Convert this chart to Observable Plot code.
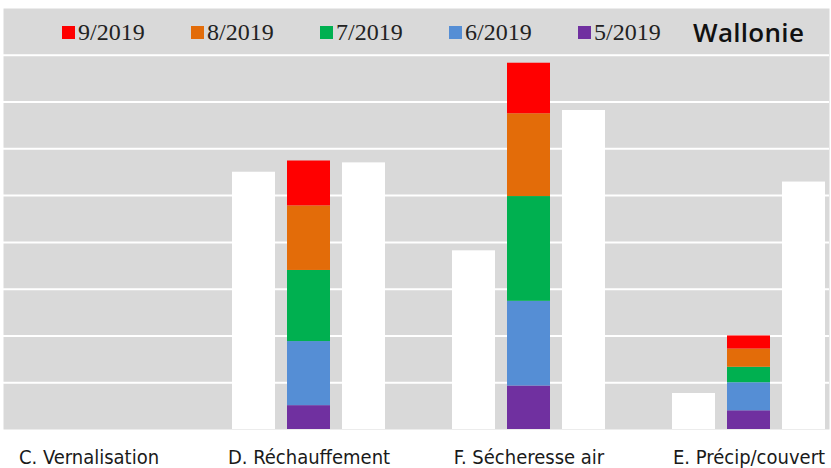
<!DOCTYPE html>
<html><head><meta charset="utf-8">
<script src="https://cdn.jsdelivr.net/npm/d3@7"></script>
<script src="https://cdn.jsdelivr.net/npm/@observablehq/plot@0.6"></script>
<style>
body{margin:0;background:#fff;}
#wrap{position:relative;width:831px;height:468px;overflow:hidden;}
#legend{position:absolute;left:62px;top:20px;height:24px;display:flex;align-items:center;}
.item{display:flex;align-items:center;width:129px;}
.sw{width:13px;height:13px;margin-right:3px;flex:none;}
.lt{font-family:"Liberation Serif",serif;font-size:24px;color:#222;}
.title{font-family:"Open Sans",sans-serif;font-size:26px;font-weight:600;letter-spacing:0.3px;color:#111;}
</style></head><body><div id="wrap"><div id="legend"></div></div>
<script>
const categories = ["C. Vernalisation", "D. Réchauffement", "F. Sécheresse air", "E. Précip/couvert"];
const months = ["5/2019", "6/2019", "7/2019", "8/2019", "9/2019"];
const monthColors = ["#7030a0", "#558ed5", "#00b050", "#e36c09", "#ff0000"];
const m5 = [0, 0.51, 0.93, 0.40];
const m6 = [0, 1.37, 1.81, 0.60];
const m7 = [0, 1.52, 2.24, 0.33];
const m8 = [0, 1.38, 1.77, 0.39];
const m9 = [0, 0.96, 1.08, 0.28];
const whiteLeft = [0, 5.50, 3.82, 0.77];
const whiteRight = [0, 5.70, 6.82, 5.29];
const title = "Wallonie";

const series = [m5, m6, m7, m8, m9];
// 4 slots per category: left white, stack, right white, gap
const slots = categories.flatMap((c, i) => [0, 1, 2, 3].map(j => `${i}-${j}`));
const stackData = [];
series.forEach((vals, k) => vals.forEach((v, i) => { if (v > 0) stackData.push({slot: `${i}-1`, month: months[k], value: v}); }));
const whiteData = [];
categories.forEach((c, i) => {
  if (whiteLeft[i] > 0) whiteData.push({slot: `${i}-0`, value: whiteLeft[i]});
  if (whiteRight[i] > 0) whiteData.push({slot: `${i}-2`, value: whiteRight[i]});
});
const labelSlots = categories.map((c, i) => `${i}-1`);

const chart = Plot.plot({
  width: 831, height: 468,
  marginTop: 8, marginBottom: 39, marginLeft: 3, marginRight: 2,
  x: {domain: slots, range: [3.7, 889], paddingInner: 0.21, paddingOuter: 0.105, label: null},
  y: {domain: [0, 9], axis: null},
  color: {domain: months, range: monthColors},
  marks: [
    Plot.frame({fill: "#d9d9d9", stroke: null}),
    Plot.gridY(d3.range(1, 9), {stroke: "white", strokeOpacity: 1, strokeWidth: 2}),
    Plot.barY(whiteData, {x: "slot", y: "value", fill: "white"}),
    Plot.barY(stackData, {x: "slot", y: "value", fill: "month"}),
    Plot.axisX(labelSlots, {
      tickFormat: s => categories[+s.split("-")[0]],
      tickSize: 0, tickPadding: 20, fontSize: 20, label: null,
      fontFamily: "'DejaVu Sans Condensed','DejaVu Sans',sans-serif",
      fill: "#1a1a1a", textOverflow: null
    })
  ]
});
const wrap = document.getElementById("wrap");
wrap.insertBefore(chart, wrap.firstChild);

const legend = document.getElementById("legend");
const order = [...months].reverse();
order.forEach((m, idx) => {
  const it = document.createElement("div");
  it.className = "item";
  if (idx === order.length - 1) it.style.width = "115px";
  const sw = document.createElement("div");
  sw.className = "sw";
  sw.style.background = monthColors[months.indexOf(m)];
  const t = document.createElement("span");
  t.className = "lt";
  t.textContent = m;
  it.appendChild(sw); it.appendChild(t);
  legend.appendChild(it);
});
const tt = document.createElement("span");
tt.className = "title";
tt.textContent = title;
legend.appendChild(tt);
</script>
</body></html>
